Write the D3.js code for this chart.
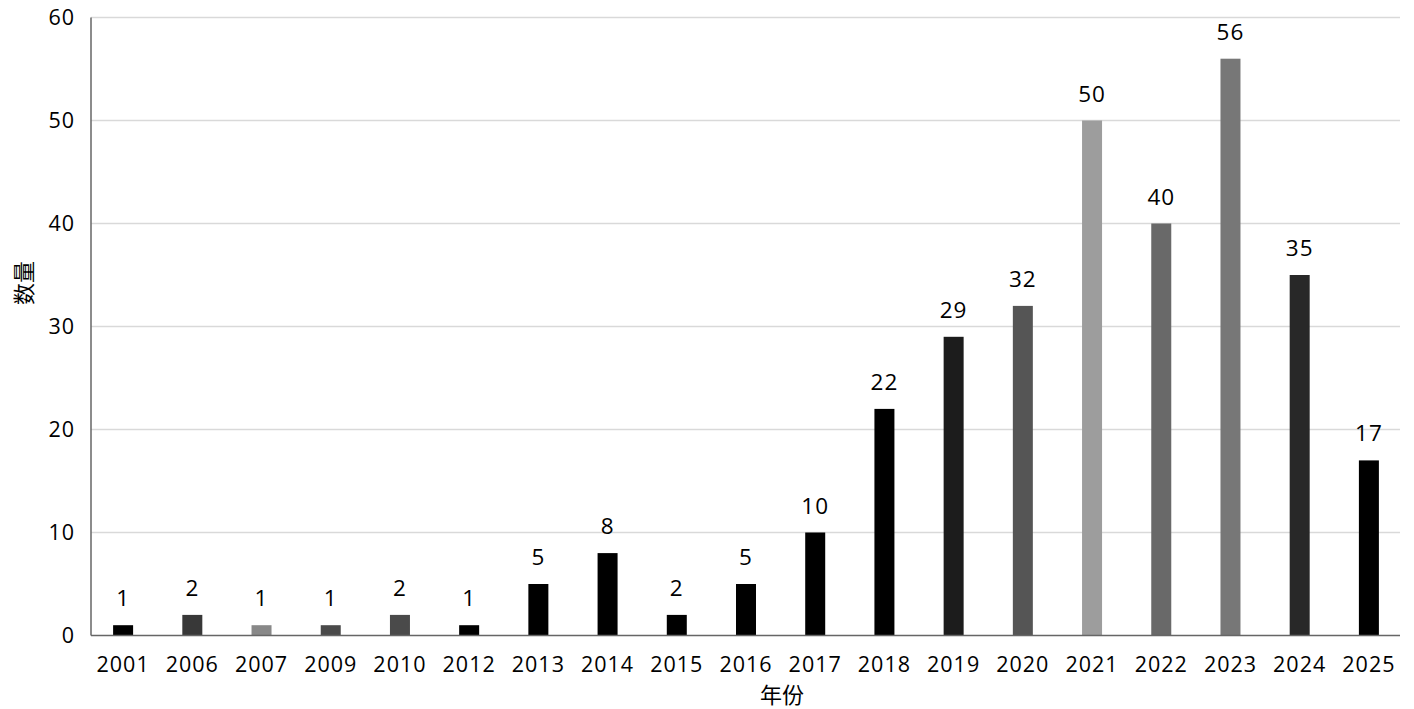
<!DOCTYPE html>
<html><head><meta charset="utf-8">
<script src="https://cdn.jsdelivr.net/npm/d3@7/dist/d3.min.js"></script>
<style>body{margin:0;background:#fff}svg{display:block}</style>
</head><body>
<svg id="c" width="1414" height="709"></svg>
<script>
const years = ["2001","2006","2007","2009","2010","2012","2013","2014","2015","2016","2017","2018","2019","2020","2021","2022","2023","2024","2025"];
const counts = [1,2,1,1,2,1,5,8,2,5,10,22,29,32,50,40,56,35,17];
const barColors = ["#000000","#383838","#888888","#4a4a4a","#4a4a4a","#000000","#000000","#000000","#000000","#000000","#000000","#000000","#1c1c1c","#555555","#9d9d9d","#696969","#777777","#282828","#000000"];
const yTicks = [0,10,20,30,40,50,60];
const xTitle = "年份", yTitle = "数量";

const svg = d3.select("#c");
const font = "'Open Sans','Noto Sans','Noto Sans CJK SC',sans-serif";
const x = d3.scaleBand().domain(years).range([88.5, 1403.5]).paddingInner(0.71).paddingOuter(0.355);
const y = d3.scaleLinear().domain([0,60]).range([635.5, 17.5]);
const L = 91, R = 1400;

// gridlines
svg.append("g").selectAll("line").data(yTicks.filter(d=>d>0)).join("line")
  .attr("x1", L).attr("x2", R).attr("y1", d=>y(d)).attr("y2", d=>y(d))
  .attr("stroke", "#d9d9d9").attr("stroke-width", 1.5);

// bars
const bw = 20;
svg.append("g").selectAll("rect").data(years).join("rect")
  .attr("x", (d)=>x(d)+x.bandwidth()/2-bw/2).attr("width", bw)
  .attr("y", (d,i)=>y(counts[i])).attr("height", (d,i)=>y(0)-y(counts[i]))
  .attr("fill", (d,i)=>barColors[i]);

// value labels
svg.append("g").selectAll("text").data(years).join("text")
  .attr("x", d=>x(d)+x.bandwidth()/2).attr("y", (d,i)=>y(counts[i])-19)
  .attr("text-anchor","middle").attr("font-family",font).attr("font-size",22.5)
  .attr("letter-spacing","1px").attr("fill","#000")
  .text((d,i)=>counts[i]);

// axes lines
svg.append("line").attr("x1",L).attr("x2",L).attr("y1",y(60)).attr("y2",y(0)).attr("stroke","#666").attr("stroke-width",1.5);
svg.append("line").attr("x1",L).attr("x2",R).attr("y1",y(0)).attr("y2",y(0)).attr("stroke","#666").attr("stroke-width",1.5);

// y tick labels
svg.append("g").selectAll("text").data(yTicks).join("text")
  .attr("x", 75).attr("y", d=>y(d)+7.5).attr("text-anchor","end")
  .attr("font-family",font).attr("font-size",21.5).attr("letter-spacing","1px").attr("fill","#000").text(d=>d);

// x tick labels
svg.append("g").selectAll("text").data(years).join("text")
  .attr("x", d=>x(d)+x.bandwidth()/2).attr("y", 672)
  .attr("text-anchor","middle").attr("font-family",font).attr("font-size",21.5)
  .attr("letter-spacing","1px").attr("fill","#000").text(d=>d);

// titles
svg.append("text").attr("x",782).attr("y",703).attr("text-anchor","middle")
  .attr("font-family",font).attr("font-size",22).attr("fill","#000").text(xTitle);
svg.append("text").attr("transform","translate(32,283) rotate(-90)").attr("text-anchor","middle")
  .attr("font-family",font).attr("font-size",22).attr("fill","#000").text(yTitle);
</script>
</body></html>
